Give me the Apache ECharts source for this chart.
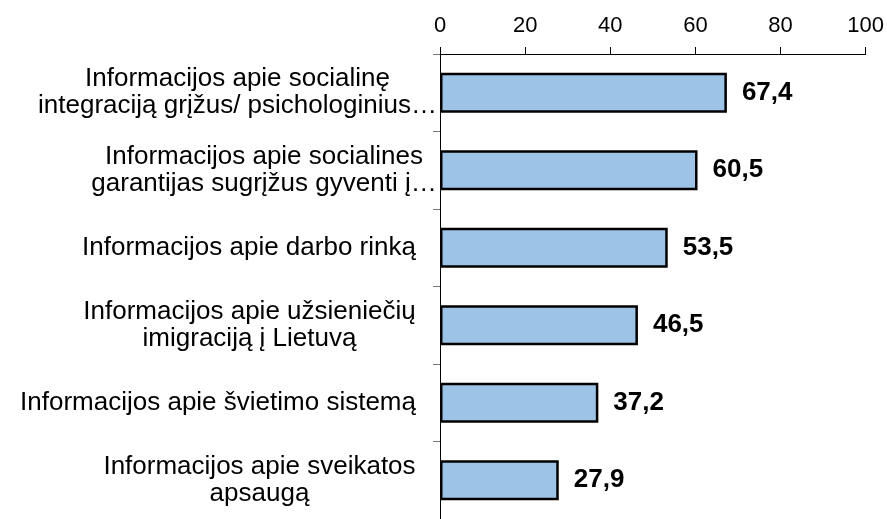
<!DOCTYPE html>
<html>
<head>
<meta charset="utf-8">
<script src="https://cdn.jsdelivr.net/npm/echarts@6/dist/echarts.min.js"></script>
<style>
  html, body { margin: 0; padding: 0; background: #fff; }
  #chart { width: 887px; height: 519px; }
</style>
</head>
<body>
<div id="chart"></div>
<script>
// Category labels (top to bottom) and values in percent
const categories = [
  "Informacijos apie socialinę\nintegraciją grįžus/ psichologinius…",
  "Informacijos apie socialines\ngarantijas sugrįžus gyventi į…",
  "Informacijos apie darbo rinką",
  "Informacijos apie užsieniečių\nimigraciją į Lietuvą",
  "Informacijos apie švietimo sistemą",
  "Informacijos apie sveikatos\napsaugą",
];
const values = [67.4, 60.5, 53.5, 46.5, 37.2, 27.9];

const FONT = "Liberation Sans, Arial, sans-serif";
const LABEL_SIZE = 26;

// Multi-line labels are centred inside their own block, so measure each block.
// Truncated labels (with "…") run right up to the axis, the others keep a gap.
const measure = document.createElement("canvas").getContext("2d");
measure.font = LABEL_SIZE + "px " + FONT;
const labelRich = {};
categories.forEach((c, i) => {
  const w = Math.max(...c.split("\n").map(s => measure.measureText(s).width));
  labelRich["c" + i] = {
    width: Math.ceil(w),
    align: "center",
    fontSize: LABEL_SIZE,
    lineHeight: 27,
    color: "#000",
    padding: c.includes("…") ? 0 : [0, 21, 0, 0],
  };
});

const chart = echarts.init(document.getElementById("chart"));

chart.setOption({
  animation: false,
  textStyle: { fontFamily: FONT },
  grid: {
    left: 440,
    top: 54,
    width: 427,
    height: 474,
  },
  xAxis: {
    type: "value",
    position: "top",
    min: 0,
    max: 100,
    interval: 20,
    axisLine: { show: true, lineStyle: { color: "#000", width: 1 } },
    axisTick: { show: true, length: 7, lineStyle: { color: "#000" } },
    axisLabel: { color: "#000", fontSize: 22, margin: 17 },
    splitLine: { show: false },
  },
  yAxis: {
    type: "category",
    data: categories,
    inverse: true,
    axisLine: { show: true, lineStyle: { color: "#000", width: 1 } },
    axisTick: { show: true, length: 7, lineStyle: { color: "#777" } },
    axisLabel: {
      margin: 3,
      align: "right",
      formatter: (value, index) =>
        value.split("\n").map(s => "{c" + index + "|" + s + "}").join("\n"),
      rich: labelRich,
    },
  },
  series: [
    {
      type: "bar",
      data: values,
      barWidth: 40,
      itemStyle: {
        color: "#9DC3E6",
        borderColor: "#000",
        borderWidth: 2.5,
      },
      label: {
        show: true,
        position: "right",
        distance: 15,
        color: "#000",
        fontSize: 26,
        fontWeight: "bold",
        formatter: p => p.value.toFixed(1).replace(".", ","),
      },
    },
  ],
});
</script>
</body>
</html>
